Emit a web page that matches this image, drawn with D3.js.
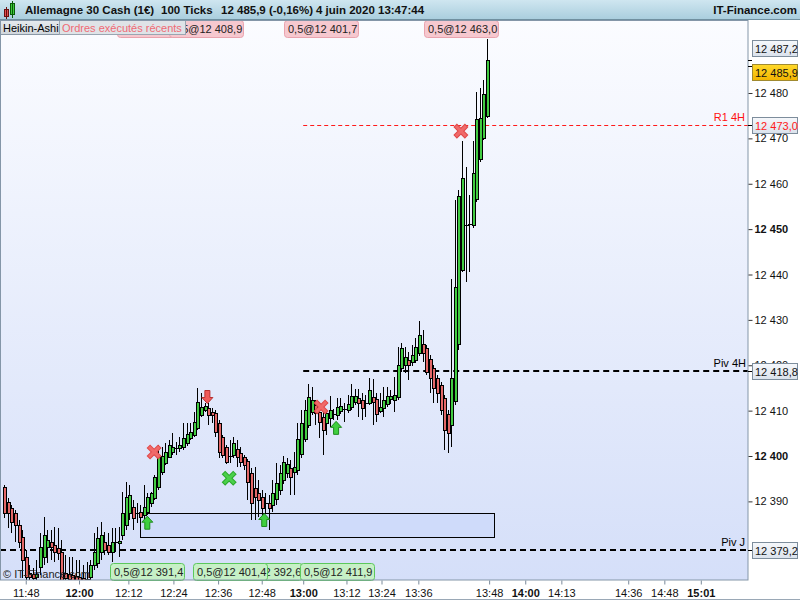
<!DOCTYPE html>
<html><head><meta charset="utf-8">
<script src="https://cdn.jsdelivr.net/npm/d3@7"></script>
<style>html,body{margin:0;padding:0;background:#fff}svg{display:block}text{font-family:"Liberation Sans",Arial,sans-serif}</style>
</head><body>
<svg id="c" width="800" height="600"></svg>
<script>
// ---------- DATA (Heikin-Ashi candles, 100 ticks) ----------
const opens=[12393.2,12389.9,12388.5,12387.4,12384.8,12382.1,12377.7,12374.2,12374.0,12373.3,12375.5,12377.7,12379.9,12381.0,12380.4,12379.7,12378.8,12374.2,12374.0,12373.8,12373.6,12373.3,12373.1,12371.6,12373.3,12376.0,12376.4,12378.8,12381.0,12380.4,12378.8,12381.0,12380.8,12382.6,12384.8,12387.4,12388.8,12387.4,12387.7,12387.0,12387.7,12389.6,12390.7,12393.2,12396.5,12398.5,12399.8,12400.9,12401.8,12401.8,12402.0,12402.9,12404.0,12404.6,12406.2,12409.0,12410.1,12410.6,12409.7,12409.5,12407.3,12404.2,12402.0,12400.0,12400.2,12401.5,12400.7,12399.8,12398.9,12396.3,12392.9,12391.8,12391.0,12389.6,12389.6,12389.2,12390.5,12392.5,12394.7,12396.3,12397.4,12396.5,12396.9,12400.4,12403.7,12406.8,12409.7,12411.2,12409.7,12408.6,12407.3,12408.4,12409.3,12409.0,12409.9,12410.4,12410.1,12410.8,12411.9,12412.8,12412.3,12411.7,12411.7,12413.0,12412.6,12409.9,12410.6,12411.5,12412.6,12412.3,12413.0,12419.4,12420.1,12421.2,12420.7,12421.2,12422.7,12424.7,12423.8,12421.4,12419.4,12417.2,12415.6,12412.8,12409.3,12406.8,12412.1,12424.7,12441.0,12450.9,12451.1,12450.9,12456.6,12465.5,12470.1,12474.9];
const highs=[12393.6,12390.7,12389.2,12388.1,12385.9,12383.7,12379.3,12376.0,12375.3,12377.1,12383.0,12386.6,12383.7,12383.7,12384.4,12384.1,12381.5,12378.2,12377.7,12377.7,12377.1,12377.1,12376.0,12376.6,12377.1,12383.0,12384.4,12385.5,12383.2,12383.0,12384.1,12384.1,12384.4,12392.1,12394.3,12393.6,12390.3,12389.6,12389.2,12393.6,12391.8,12392.1,12395.8,12402.4,12402.0,12402.9,12403.5,12405.1,12403.1,12404.2,12407.3,12407.3,12407.3,12409.7,12415.0,12413.9,12411.7,12411.7,12410.6,12410.1,12407.9,12404.6,12402.4,12403.5,12404.2,12403.5,12402.0,12400.2,12399.3,12397.4,12397.6,12394.7,12392.5,12391.8,12391.4,12394.7,12398.5,12398.0,12400.0,12399.6,12399.1,12400.9,12407.3,12410.1,12412.3,12415.9,12415.2,12412.3,12411.2,12410.1,12410.1,12413.2,12410.4,12412.8,12412.8,12411.7,12413.4,12415.9,12414.8,12414.8,12413.9,12413.4,12417.2,12417.0,12413.9,12413.9,12415.2,12415.2,12414.5,12417.4,12424.0,12424.9,12424.0,12422.9,12424.5,12426.0,12429.8,12427.8,12424.5,12422.3,12420.1,12417.9,12416.3,12413.4,12410.1,12439.0,12456.4,12458.6,12469.4,12463.7,12457.5,12469.4,12480.2,12481.1,12482.9,12491.9];
const lows=[12386.3,12384.1,12383.0,12381.0,12379.7,12373.1,12372.0,12372.0,12372.0,12372.0,12373.8,12376.0,12376.4,12377.1,12376.6,12377.1,12371.6,12371.6,12371.6,12371.6,12371.4,12371.4,12370.9,12370.9,12372.2,12374.9,12375.3,12377.1,12378.2,12378.2,12376.6,12378.8,12377.7,12381.5,12383.7,12385.9,12383.7,12385.2,12384.1,12385.9,12387.0,12388.8,12390.3,12392.5,12395.8,12398.0,12399.6,12400.2,12400.2,12400.9,12401.3,12402.2,12403.5,12404.2,12405.7,12408.6,12409.7,12406.8,12407.3,12404.2,12399.6,12399.6,12398.2,12398.5,12399.6,12397.6,12397.6,12396.9,12390.3,12385.9,12385.9,12386.6,12386.6,12387.4,12383.7,12387.7,12389.2,12391.4,12393.8,12395.2,12391.4,12391.4,12395.8,12399.6,12403.1,12406.2,12409.0,12406.8,12404.0,12400.2,12404.6,12406.4,12407.9,12407.9,12409.3,12407.5,12409.5,12410.1,12411.2,12408.6,12407.9,12408.6,12411.2,12406.8,12407.5,12409.5,12408.6,12410.8,12411.5,12409.7,12412.3,12418.5,12418.3,12416.7,12419.8,12420.5,12422.0,12420.7,12417.9,12413.9,12411.7,12411.7,12409.0,12401.3,12400.7,12402.0,12411.2,12423.4,12440.6,12438.3,12440.6,12450.3,12456.0,12464.8,12469.6,12474.5];
const closes=[12387.4,12387.4,12385.5,12384.8,12381.0,12377.1,12373.3,12373.3,12373.1,12374.0,12379.9,12382.6,12381.5,12379.9,12378.8,12378.6,12372.7,12373.1,12372.9,12372.7,12372.2,12372.0,12371.6,12372.9,12376.0,12378.8,12381.9,12382.6,12379.3,12378.8,12381.0,12381.0,12381.3,12387.4,12391.0,12391.4,12386.3,12387.4,12386.6,12388.8,12391.0,12391.8,12395.4,12399.8,12400.0,12400.9,12402.4,12402.0,12401.8,12402.4,12404.0,12404.8,12405.3,12407.5,12411.9,12410.8,12411.0,12409.0,12409.0,12405.3,12400.9,12400.2,12398.7,12400.0,12402.9,12399.8,12398.7,12398.0,12394.3,12389.6,12391.0,12390.3,12388.5,12389.6,12388.5,12391.8,12394.0,12396.3,12398.7,12398.2,12395.4,12397.6,12403.7,12407.3,12410.1,12413.0,12412.3,12409.5,12407.5,12405.7,12409.5,12410.1,12409.3,12410.8,12411.0,12410.4,12411.5,12413.2,12413.2,12411.7,12410.6,12411.7,12414.5,12411.9,12409.3,12410.8,12412.3,12413.2,12413.2,12413.4,12420.1,12423.8,12421.8,12420.1,12422.3,12424.0,12426.7,12422.7,12418.5,12417.2,12415.0,12413.9,12410.1,12405.7,12405.1,12417.2,12437.2,12457.3,12461.3,12450.9,12451.1,12462.4,12474.3,12474.5,12479.8,12487.2];

const timeTickIdx=[6.0,20.9,34.7,47.3,59.8,72.0,83.6,95.7,105.5,115.8,135.6,145.7,155.8,174.5,184.6,194.8];
const timeTickLabels=["11:48","12:00","12:12","12:24","12:36","12:48","13:00","13:12","13:24","13:36","13:48","14:00","14:13","14:36","14:48","15:01"];
const timeTickBold=["12:00","13:00","14:00","15:01"];
const priceTicks=[12390,12400,12410,12420,12430,12440,12450,12460,12470,12480];
const priceTicksBold=[12400,12450];

const pivJ=12379.2, piv4H=12418.8, r14H=12473.0, levelStartIdx=83.6;
const haClose=12487.2, lastPrice=12485.9;
const zoneLow=12382.1, zoneHigh=12387.4, zoneStartIdx=38, zoneEndIdx=137;

const sellXIdx=[41.9,88.6,127.7], sellXVal=[12400.9,12410.8,12471.6];
const buyXIdx=[62.9], buyXVal=[12395.1];
const sellArrowIdx=[56.8], sellArrowVal=[12413.0];
const buyArrowIdx=[40.0,72.7,92.8], buyArrowVal=[12385.3,12385.9,12406.2];
// sell orders (top, drawn in price order); first one is hidden under the legend
const sellOrderIdx=[41.9,88.6,56.3,127.7], sellOrderLabels=["","0,5@12 401,7","0,5@12 408,9","0,5@12 463,0"];
const buyOrderIdx=[39.9,72.9,63.0,93.0], buyOrderLabels=["0,5@12 391,4","0,5@12 392,6","0,5@12 401,4","0,5@12 411,9"];

const headerParts=["Allemagne 30 Cash (1€)","100 Ticks","12 485,9 (-0,16%)","4 juin 2020 13:47:44"];

// ---------- LAYOUT ----------
const PL=0, PT=20, PR=748, PB=580;
const GREEN="#42cc42", RED="#e46868";
const svg=d3.select("#c");
const x=d3.scaleLinear().domain([-1.2,208]).range([PL,PR]);
const y=d3.scaleLinear().domain([12400,12480]).range([456,93]);

function fr(v,dec){const s=v.toFixed(dec);const p=s.split(".");return p[0].replace(/\B(?=(\d{3})+(?!\d))/g," ")+(p[1]?","+p[1]:"");}

const defs=svg.append("defs");
function grad(id,stops,x2,y2){const g=defs.append("linearGradient").attr("id",id).attr("x1",0).attr("y1",0).attr("x2",x2).attr("y2",y2);stops.forEach(s=>g.append("stop").attr("offset",s[0]).attr("stop-color",s[1]));}
grad("bgPlot",[[0,"#fbfcff"],[1,"#d5dff9"]],0,1);
grad("bgHead",[[0,"#cfe6f0"],[1,"#a8cddd"]],0,1);
grad("bgVal",[[0,"#f6f8fb"],[1,"#dae2ec"]],0,1);
grad("bgPrice",[[0,"#ffd92a"],[1,"#f2b400"]],0,1);
grad("bgLbl",[[0,"#e6eaee"],[1,"#d0d6dc"]],0,1);
defs.append("clipPath").attr("id","plotClip").append("rect").attr("x",PL).attr("y",PT).attr("width",PR-PL).attr("height",PB-PT);

svg.append("rect").attr("width",800).attr("height",600).attr("fill","#fff");
svg.append("rect").attr("x",PL).attr("y",PT).attr("width",PR-PL).attr("height",PB-PT).attr("fill","url(#bgPlot)");

const plot=svg.append("g").attr("clip-path","url(#plotClip)");
// zone
plot.append("rect").attr("x",Math.round(x(zoneStartIdx))+0.5).attr("y",Math.round(y(zoneHigh))+0.5)
 .attr("width",Math.round(x(zoneEndIdx)-x(zoneStartIdx))).attr("height",Math.round(y(zoneLow)-y(zoneHigh)))
 .attr("fill","#cfdbfa").attr("stroke","#000").attr("stroke-width",1);
// levels
function level(v,x0,color,w,dash){const yy=Math.round(y(v))+(w%2?0.5:0);
 plot.append("line").attr("x1",x0).attr("x2",PR).attr("y1",yy).attr("y2",yy)
 .attr("stroke",color).attr("stroke-width",w).attr("stroke-dasharray",dash);}
level(pivJ,PL,"#000",2,"6,4");
level(piv4H,x(levelStartIdx),"#000",2,"6,4");
level(r14H,x(levelStartIdx),"#ff1a1a",1,"4,3");
svg.append("text").attr("x",745).attr("y",Math.round(y(pivJ))-4).attr("text-anchor","end").attr("font-size",11).attr("fill","#000").text("Piv J");
svg.append("text").attr("x",746).attr("y",Math.round(y(piv4H))-4).attr("text-anchor","end").attr("font-size",11).attr("fill","#000").text("Piv 4H");
svg.append("text").attr("x",745).attr("y",Math.round(y(r14H))-4).attr("text-anchor","end").attr("font-size",11).attr("fill","#ff1010").text("R1 4H");

// candles
opens.forEach((o,i)=>{
  const h=highs[i], l=lows[i], c=closes[i];
  const px=Math.round(x(i));
  const yh=Math.round(y(h)), yl=Math.round(y(l));
  plot.append("rect").attr("x",px).attr("y",yh).attr("width",1).attr("height",Math.max(1,yl-yh)).attr("fill","#000");
  const top=Math.round(y(Math.max(o,c))), bot=Math.round(y(Math.min(o,c)));
  const col=c>o?GREEN:(c<o?RED:"#000");
  plot.append("rect").attr("x",px-1).attr("y",top).attr("width",4).attr("height",Math.max(1,bot-top+1)).attr("fill","#000");
  if(bot-top>=2) plot.append("rect").attr("x",px).attr("y",top+1).attr("width",2).attr("height",bot-top-1).attr("fill",col);
});

// copyright (over candles)
svg.append("text").attr("x",3).attr("y",578).attr("font-size",11).attr("fill","#222").text("© IT-Finance.com");

// markers
function xMark(cx,cy,col,edge){const gm=svg.append("g").attr("transform",`translate(${cx},${cy})`);
  gm.append("path").attr("d","M-4,-4L4,4M4,-4L-4,4").attr("stroke",edge).attr("stroke-width",5).attr("stroke-linecap","square");
  gm.append("path").attr("d","M-4,-4L4,4M4,-4L-4,4").attr("stroke",col).attr("stroke-width",3).attr("stroke-linecap","square");}
sellXIdx.forEach((d,i)=>xMark(x(d),y(sellXVal[i]),"#f06a6a","#e04848"));
buyXIdx.forEach((d,i)=>xMark(x(d),y(buyXVal[i]),"#4ad04a","#2aa82a"));
function arrow(cx,cy,up,fill,stroke){const s=up?1:-1;
  const p=`M0,${-6.5*s}L${5.5},${-0.5*s}L${2.5},${-0.5*s}L${2.5},${6.5*s}L${-2.5},${6.5*s}L${-2.5},${-0.5*s}L${-5.5},${-0.5*s}Z`;
  svg.append("path").attr("transform",`translate(${cx},${cy})`).attr("d",p).attr("fill",fill).attr("stroke",stroke).attr("stroke-width",1);}
buyArrowIdx.forEach((d,i)=>arrow(x(d),y(buyArrowVal[i]),true,"#3fcf3f","#1f8a1f"));
sellArrowIdx.forEach((d,i)=>arrow(x(d),y(sellArrowVal[i]),false,"#f05a5a","#b83030"));

// order boxes
const BOXW=74;
function orderBox(cx,yTop,label,fill,stroke){const gb=svg.append("g");
  const x0=Math.round(cx-BOXW/2);
  gb.append("rect").attr("x",x0+0.5).attr("y",yTop+0.5).attr("width",BOXW).attr("height",17).attr("rx",3)
    .attr("fill",fill).attr("stroke",stroke);
  if(label) gb.append("text").attr("x",x0+4).attr("y",yTop+13).attr("font-size",11).attr("fill","#222").text(label);}
sellOrderIdx.forEach((d,i)=>orderBox(x(d),20,sellOrderLabels[i],"#f6c8cf","#e9a3ae"));
buyOrderIdx.forEach((d,i)=>orderBox(x(d),563,buyOrderLabels[i],"#c6f0c6","#5cc85c"));

// header
svg.append("rect").attr("x",0).attr("y",0).attr("width",800).attr("height",20).attr("fill","url(#bgHead)");
svg.append("line").attr("x1",0).attr("x2",800).attr("y1",19.5).attr("y2",19.5).attr("stroke","#7090a0");
svg.append("rect").attr("x",10.5).attr("y",3.5).attr("width",4).attr("height",11).attr("fill","#3ccc3c").attr("stroke","#0a5a0a");
svg.append("line").attr("x1",12.5).attr("x2",12.5).attr("y1",1).attr("y2",18).attr("stroke","#0a5a0a");
svg.append("rect").attr("x",4.5).attr("y",9.5).attr("width",4).attr("height",7).attr("fill","#e05050").attr("stroke","#6a1010");
svg.append("line").attr("x1",6.5).attr("x2",6.5).attr("y1",7).attr("y2",19).attr("stroke","#6a1010");
const headX=[25,161,221,316];
headerParts.forEach((t,i)=>svg.append("text").attr("x",headX[i]).attr("y",14).attr("font-size",11.5).attr("font-weight","bold").attr("fill","#111").text(t));
svg.append("text").attr("x",797).attr("y",14).attr("text-anchor","end").attr("font-size",11.5).attr("font-weight","bold").attr("fill","#111").text("IT-Finance.com");

// overlay labels
svg.append("rect").attr("x",0.5).attr("y",20.5).attr("width",59).attr("height",14).attr("fill","url(#bgLbl)").attr("stroke","#8a98a6");
svg.append("text").attr("x",3).attr("y",31.5).attr("font-size",11).attr("fill","#000").text("Heikin-Ashi");
svg.append("rect").attr("x",59.5).attr("y",20.5).attr("width",126).attr("height",14).attr("fill","#dfe3e7").attr("stroke","#9aa6b2");
svg.append("text").attr("x",62).attr("y",31.5).attr("font-size",11).attr("fill","#f06a74").text("Ordres exécutés récents");

// plot frame
svg.append("rect").attr("x",0.5).attr("y",PT+0.5).attr("width",PR-0.5).attr("height",PB-PT-0.5).attr("fill","none").attr("stroke","#8496a8");
svg.append("line").attr("x1",0).attr("x2",800).attr("y1",599.5).attr("y2",599.5).attr("stroke","#9aa8b6");

// right axis
const ya=svg.append("g").attr("transform",`translate(${PR+0.5},0)`).call(d3.axisRight(y).tickValues(priceTicks).tickSize(4).tickPadding(2).tickFormat(d=>fr(d,0)));
ya.select(".domain").remove();
ya.selectAll(".tick line").attr("stroke","#333");
ya.selectAll(".tick text").attr("font-size",11).attr("font-family","Liberation Sans, Arial, sans-serif").attr("fill","#111")
  .attr("font-weight",d=>priceTicksBold.includes(d)?"bold":"normal");
// bottom axis
const xa=svg.append("g").attr("transform",`translate(0,${PB+0.5})`).call(d3.axisBottom(x).tickValues(timeTickIdx).tickSize(4).tickPadding(5).tickFormat((d,i)=>timeTickLabels[i]));
xa.select(".domain").remove();
xa.selectAll(".tick line").attr("stroke","#7a8a9a");
xa.selectAll(".tick text").attr("font-size",11).attr("font-family","Liberation Sans, Arial, sans-serif").attr("fill","#111")
  .attr("font-weight",(d,i)=>timeTickBold.includes(timeTickLabels[i])?"bold":"normal");

// value boxes on right axis
const vals=[{v:haClose,fill:"url(#bgVal)",stroke:"#7d8d9c",tc:"#111",off:-11.5},
            {v:lastPrice,fill:"url(#bgPrice)",stroke:"#a08a30",tc:"#111",off:6.5},
            {v:r14H,fill:"url(#bgVal)",stroke:"#7d8d9c",tc:"#ff1a1a",off:0},
            {v:piv4H,fill:"url(#bgVal)",stroke:"#7d8d9c",tc:"#111",off:0},
            {v:pivJ,fill:"url(#bgVal)",stroke:"#7d8d9c",tc:"#111",off:0}];
vals.forEach(b=>{const yy=Math.round(y(b.v));
  svg.append("line").attr("x1",PR).attr("x2",PR+4).attr("y1",yy+0.5).attr("y2",yy+0.5).attr("stroke","#000");
  const cy=yy+b.off;
  svg.append("rect").attr("x",752.5).attr("y",Math.round(cy-8.5)+0.5).attr("width",45).attr("height",16).attr("fill",b.fill).attr("stroke",b.stroke);
  svg.append("text").attr("x",755).attr("y",Math.round(cy-8.5)+13).attr("font-size",11).attr("fill",b.tc).text(fr(b.v,1));
});
</script>
</body></html>
